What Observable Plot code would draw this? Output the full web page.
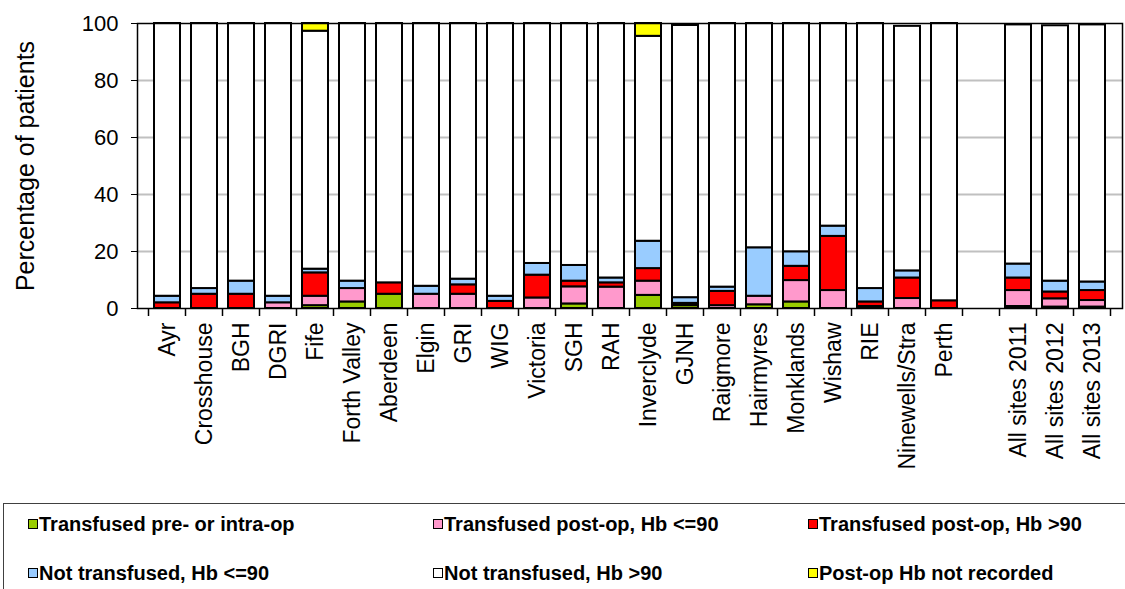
<!DOCTYPE html>
<html>
<head>
<meta charset="utf-8">
<script src="https://cdn.jsdelivr.net/npm/d3@7"></script>
<script src="https://cdn.jsdelivr.net/npm/@observablehq/plot@0.6"></script>
<style>
  html, body { margin: 0; padding: 0; background: #fff; }
  #wrap { position: relative; width: 1125px; height: 589px; overflow: hidden; font-family: "Liberation Sans", Arial, sans-serif; }
  #legend { position: absolute; left: 3px; top: 503px; width: 1130px; height: 120px; border: 1.5px solid #404040; box-sizing: border-box; background: #fff; }
  .item { position: absolute; display: flex; align-items: center; font-weight: bold; font-size: 20px; color: #000; white-space: nowrap; }
  .sw { width: 8px; height: 8px; border: 1.5px solid #000; margin-right: 1px; }
</style>
</head>
<body>
<div id="wrap">
  <div id="chart"></div>
  <div id="legend"></div>
</div>
<script>
const categories = ["Ayr","Crosshouse","BGH","DGRI","Fife","Forth Valley","Aberdeen","Elgin","GRI","WIG","Victoria","SGH","RAH","Inverclyde","GJNH","Raigmore","Hairmyres","Monklands","Wishaw","RIE","Ninewells/Stra","Perth"," ","All sites 2011","All sites 2012","All sites 2013"];

const seriesNames = ["Transfused pre- or intra-op","Transfused post-op, Hb <=90","Transfused post-op, Hb >90","Not transfused, Hb <=90","Not transfused, Hb >90","Post-op Hb not recorded"];
const seriesColors = ["#99cc00","#ff99cc","#ff0000","#99ccff","#ffffff","#ffff00"];

const transfusedPreIntra = [0,0,0,0,1,2.3,5,0,0,0,0,1.6,0,4.6,1,0,1.3,2.3,0,0,0,0,0,0.7,0.5,0.5];
const transfusedPostLow  = [0,0,0,2,3.3,4.7,0,5,5,0,3.7,6,7.5,5,0.5,1,3,7.5,6.3,0.7,3.5,0,0,5.6,2.9,2.3];
const transfusedPostHigh = [2,5,5,0,8.2,0,4,0,3.3,2.5,8,2,1.5,4.4,0.3,5,0,5,19,1.6,7.2,2.7,0,4.4,2.4,3.5];
const notTransfusedLow   = [2.3,2,4.6,2.3,1.3,2.6,0,2.8,2,1.8,4.1,5.5,1.7,9.6,2,1.5,17,5.1,3.6,4.7,2.5,0,0,4.9,3.8,3];
const notTransfusedHigh  = [95.7,93,90.4,95.7,83.5,90.4,91,92.2,89.7,95.7,84.2,84.9,89.3,71.9,95.5,92.5,78.7,80.1,71.1,93,85.8,97.3,0,83.9,89.6,90.2];
const notRecorded        = [0,0,0,0,2.7,0,0,0,0,0,0,0,0,4.5,0,0,0,0,0,0,0,0,0,0,0,0];

const yTicks = [0,20,40,60,80,100];
const gridTicks = [20,40,60,80];

const seriesValues = [transfusedPreIntra, transfusedPostLow, transfusedPostHigh, notTransfusedLow, notTransfusedHigh, notRecorded];
const rows = [];
seriesNames.forEach((s, si) => {
  categories.forEach((c, ci) => {
    rows.push({cat: c, series: s, value: seriesValues[si][ci]});
  });
});

const H = 500, MB = 192;
const plot = Plot.plot({
  width: 1125,
  height: H,
  marginTop: 23,
  marginBottom: MB,
  marginLeft: 137,
  marginRight: 3,
  style: {fontFamily: '"Liberation Sans", Arial, sans-serif', fontSize: "22px", background: "#fff", color: "#000"},
  x: {domain: categories, paddingInner: 0.31, paddingOuter: 0.155, label: null},
  y: {domain: [0, 100], label: null},
  color: {domain: seriesNames, range: seriesColors},
  marks: [
    Plot.gridY(gridTicks, {stroke: "#c0c0c0", strokeWidth: 2, strokeOpacity: 1}),
    Plot.barY(rows, {x: "cat", y: "value", fill: "series", stroke: "#000", strokeWidth: 2, order: seriesNames, filter: d => d.value > 0}),
    Plot.frame({stroke: "#000", strokeWidth: 1.5}),
    Plot.axisY(yTicks, {tickSize: 6, tickPadding: 13, fontSize: 22, label: null}),
    Plot.axisX({tickSize: 0, tickRotate: -90, tickPadding: 14, fontSize: 23, label: null}),
    Plot.text(["Percentage of patients"], {frameAnchor: "left", textAnchor: "middle", rotate: -90, dx: -112, fontSize: 25})
  ]
});
document.getElementById("chart").appendChild(plot);

// boundary ticks on the band axis
const xs = plot.scale("x");
const gap = (xs.step - xs.bandwidth) / 2;
const svg = d3.select(plot);
const bounds = categories.map(c => xs.apply(c) - gap);
bounds.push(xs.apply(categories[categories.length - 1]) + xs.bandwidth + gap);
svg.append("g").selectAll("line").data(bounds).join("line")
  .attr("x1", d => d).attr("x2", d => d)
  .attr("y1", H - MB).attr("y2", H - MB + 8)
  .attr("stroke", "#000").attr("stroke-width", 1.5);

// legend
const legend = document.getElementById("legend");
const colX = [24, 429, 804];
const rowY = [20, 69];
seriesNames.forEach((s, i) => {
  const el = document.createElement("div");
  el.className = "item";
  el.style.left = colX[i % 3] + "px";
  el.style.top = (rowY[Math.floor(i / 3)] - 10) + "px";
  el.style.height = "20px";
  el.innerHTML = `<span class="sw" style="background:${seriesColors[i]}"></span><span>${s.replace(/</g,"&lt;").replace(/>/g,"&gt;")}</span>`;
  legend.appendChild(el);
});
</script>
</body>
</html>
